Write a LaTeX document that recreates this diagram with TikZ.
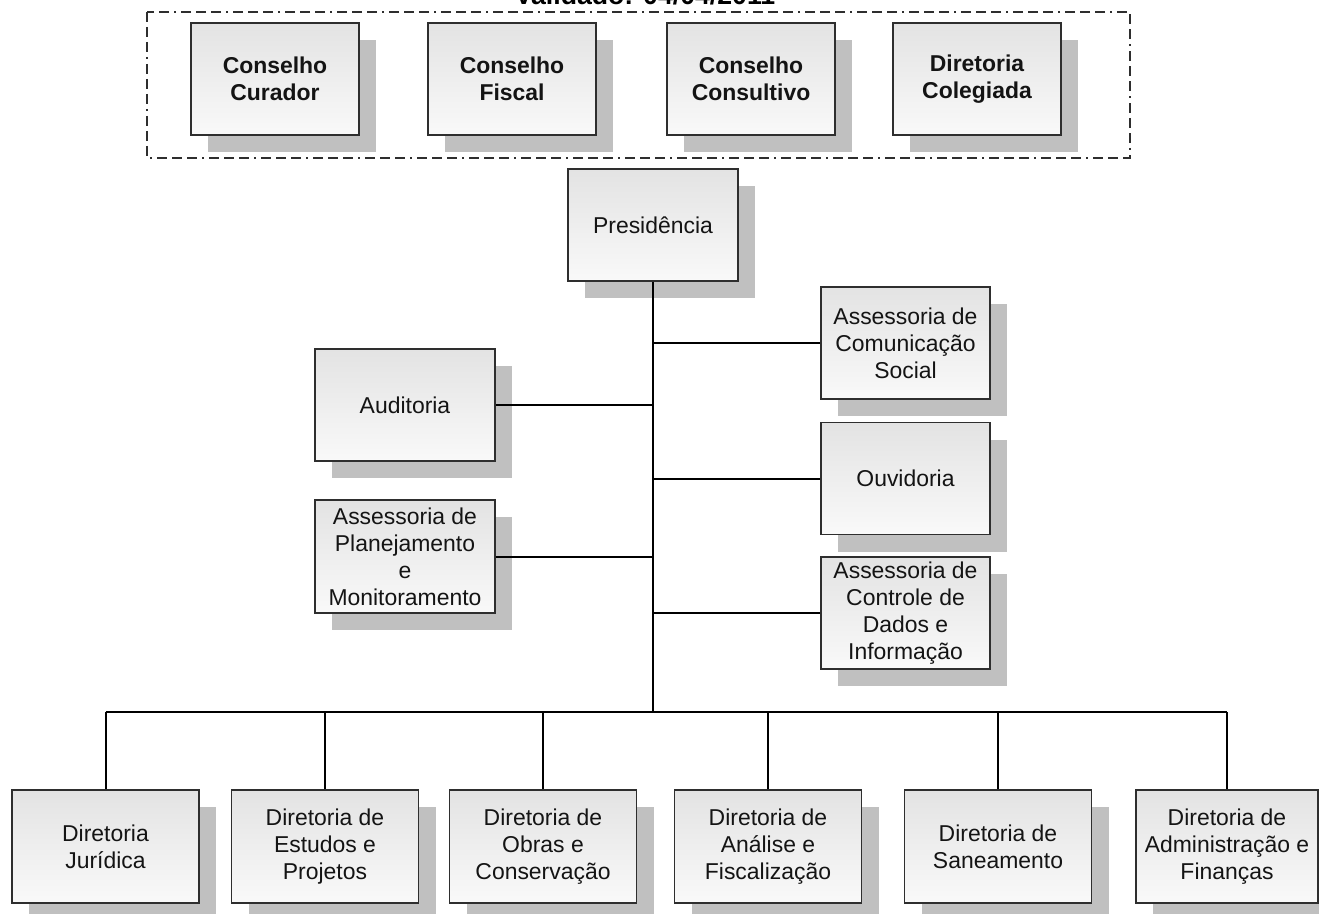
\documentclass[tikz,border=0pt]{standalone}
\usepackage{fontspec}
\setmainfont{Liberation Sans}
\usepackage{tikz}
\usetikzlibrary{positioning,shadows}
\definecolor{boxtop}{HTML}{E3E3E3}
\definecolor{boxbot}{HTML}{F9F9F9}
\definecolor{shadowgray}{HTML}{C0C0C0}
\definecolor{edgegray}{HTML}{2E2E2E}
\tikzset{
  every picture/.style={line cap=butt, line join=miter},
  unit/.style={draw=edgegray, line width=1.1pt, top color=boxtop, bottom color=boxbot,
    drop shadow={shadow xshift=12.75pt, shadow yshift=-12.75pt, fill=shadowgray, opacity=1},
    minimum height=84pt, align=center, inner sep=1pt,
    font=\fontsize{17.2}{20.2}\selectfont, text=black!92},
  council/.style={unit, minimum width=126pt, font=\fontsize{17.2}{20.2}\selectfont\bfseries},
  staffR/.style={unit, minimum width=126.75pt},
  staffL/.style={unit, minimum width=135pt},
  directorate/.style={unit, minimum width=140.25pt, minimum height=84.75pt},
  frame/.style={edgegray, line width=1.1pt,
    dash pattern=on 7.5pt off 3.75pt on 7.5pt off 3.75pt on 7.5pt off 3.75pt on 1.5pt off 3.75pt},
  trunk/.style={black, line width=2.2pt},
  branch/.style={black, line width=1.5pt},
}

\begin{document}
\begin{tikzpicture}[x=0.75pt, y=-0.75pt]
\useasboundingbox (0,0) rectangle (1319,913);
% the councils
\node[font=\fontsize{20}{22}\selectfont\bfseries, anchor=base] (stamp) at (645,5) {Validado: 04/04/2011};
\draw[frame] (147,12) rectangle (1130,158);
\node[council] (curador) at (275,79) {Conselho\\Curador};
\node[council] (fiscal) at (512,79) {Conselho\\Fiscal};
\node[council] (consultivo) at (751,79) {Conselho\\Consultivo};
\node[council] (colegiada) at (977,79) {Diretoria\\Colegiada};
% the presidency and its staff
\node[unit, minimum width=127.5pt] (pres) at (653,225) {Presidência};
\node[staffR] (comunic) at (905.5,343) {Assessoria de\\Comunicação\\Social};
\node[staffL] (audit) at (405,405) {Auditoria};
\node[staffR] (ouvid) at (905.5,478.5) {Ouvidoria};
\node[staffL, minimum height=84.75pt] (planej) at (405,556.5) {Assessoria de\\Planejamento\\e\\Monitoramento};
\node[staffR] (dados) at (905.5,613) {Assessoria de\\Controle de\\Dados e\\Informação};
\coordinate (bus) at (653,712);
\draw[trunk] (pres.south) -- (bus);
\foreach \s in {comunic,ouvid,dados} {
  \draw[branch] (\s.west) -- (\s.west -| pres.south);
}
\foreach \s in {audit,planej} {
  \draw[branch] (\s.east) -- (\s.east -| pres.south);
}
% the directorates
\node[directorate] (jur) at (105.5,846.5) {Diretoria\\Jurídica};
\node[directorate] (estudos) at (325,846.5) {Diretoria de\\Estudos e\\Projetos};
\node[directorate] (obras) at (543,846.5) {Diretoria de\\Obras e\\Conservação};
\node[directorate] (analise) at (768,846.5) {Diretoria de\\Análise e\\Fiscalização};
\node[directorate] (saneam) at (998,846.5) {Diretoria de\\Saneamento};
\node[directorate, minimum width=136.5pt] (admin) at (1227,846.5) {Diretoria de\\Administração e\\Finanças};
\draw[trunk] (bus -| jur.north) -- (bus -| admin.north);
\foreach \d in {jur,estudos,obras,analise,saneam,admin} {
  \draw[branch] (\d.north) -- (\d.north |- bus);
}
\end{tikzpicture}
\end{document}
